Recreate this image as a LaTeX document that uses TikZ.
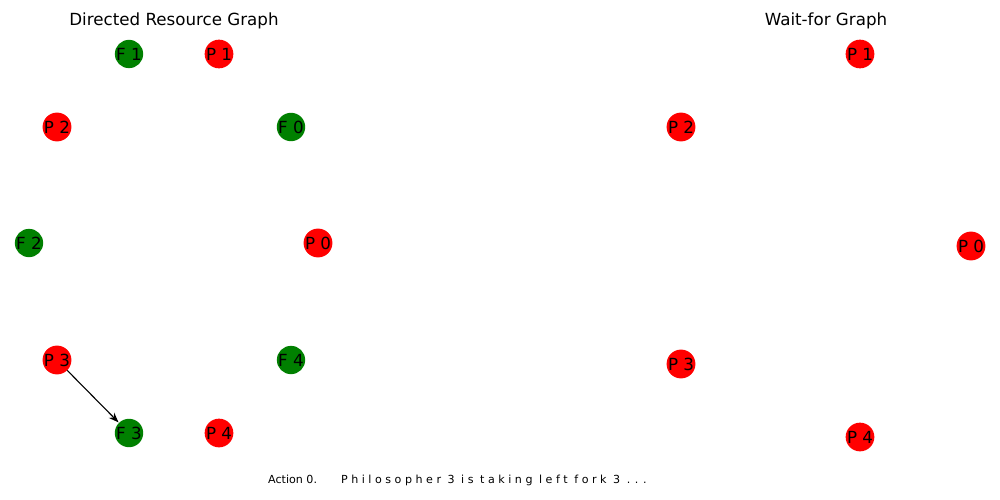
\documentclass[tikz,border=0pt]{standalone}
\usepackage{fontspec}
\setmainfont{DejaVu Sans}
\usetikzlibrary{arrows.meta}
\definecolor{pred}{RGB}{255,0,0}
\definecolor{fgreen}{RGB}{0,128,0}
\newcommand{\wg}{\ \hspace{3pt}}
\tikzset{
  base/.style={circle, minimum size=26pt, inner sep=0pt, text=black, font=\fontsize{16.7}{20}\selectfont},
  phil/.style={base, fill=pred},
  fork/.style={base, fill=fgreen},
  title/.style={anchor=base, font=\fontsize{16.7}{20}\selectfont},
  edge/.style={draw=black, line width=1.1pt, -{Stealth[length=10pt,width=7.5pt]}, shorten >=0.5pt}
}
\begin{document}
\begin{tikzpicture}[x=1pt,y=-1pt]
\useasboundingbox[fill=white] (0,0) rectangle (1000,500);
% titles
\node[title] (t1) at (174,26) {Directed Resource Graph};
\node[title] (t2) at (826,26) {Wait-for Graph};
% left graph
\node[fork] (F1) at (129,54) {F 1};
\node[phil] (P1) at (219,54) {P 1};
\node[phil] (P2) at (57,127) {P 2};
\node[fork] (F0) at (291,127) {F 0};
\node[fork] (F2) at (29,243) {F 2};
\node[phil] (P0) at (318,243) {P 0};
\node[phil] (P3) at (57,360) {P 3};
\node[fork] (F4) at (291,360) {F 4};
\node[fork] (F3) at (129,433) {F 3};
\node[phil] (P4) at (219,433) {P 4};
\draw[edge] (P3) -- (F3);
% right graph
\node[phil] (Q1) at (860,54) {P 1};
\node[phil] (Q2) at (681,127) {P 2};
\node[phil] (Q0) at (971,246) {P 0};
\node[phil] (Q3) at (681,364) {P 3};
\node[phil] (Q4) at (860,437) {P 4};
% status text
\node[anchor=base west, inner sep=0pt, font=\fontsize{11.1}{13}\selectfont] (msg) at (268,483)
  {Action 0.\hspace{24pt}P h i l o s o p h e r\wg 3\wg i s\wg t a k i n g\wg l e f t\wg f o r k\wg 3\wg . . .};
\end{tikzpicture}
\end{document}
